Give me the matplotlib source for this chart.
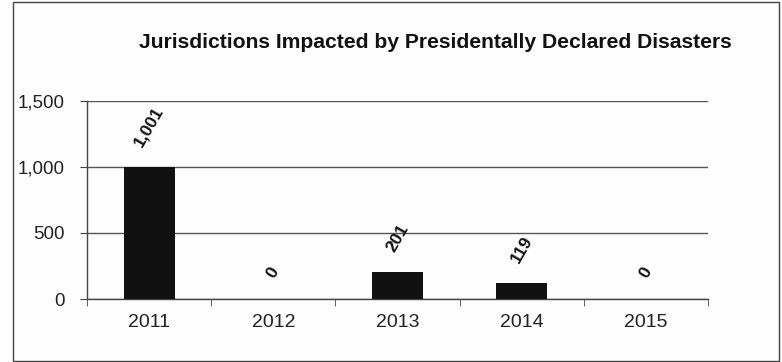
import matplotlib
matplotlib.use("Agg")
import matplotlib.pyplot as plt
from matplotlib.patches import Rectangle
import numpy as np

years = ["2011", "2012", "2013", "2014", "2015"]
jurisdictions = [1001, 0, 201, 119, 0]
y_ticks = [0, 500, 1000, 1500]
y_tick_labels = ["0", "500", "1,000", "1,500"]
title = "Jurisdictions Impacted by Presidentally Declared Disasters"

plt.rcParams["font.family"] = ["Liberation Sans", "DejaVu Sans"]

W, H = 782, 362
fig = plt.figure(figsize=(W / 100, H / 100), dpi=100)
fig.patch.set_facecolor("#fdfdfd")

# outer chart frame
fig.patches.append(Rectangle((13 / W, 1 - 361 / H), (779 - 13) / W, (361 - 2) / H,
                             transform=fig.transFigure, fill=False,
                             edgecolor="#444444", linewidth=1.0))

ax = fig.add_axes([87 / W, 1 - 299 / H, (708 - 87) / W, (299 - 101) / H])
ax.set_facecolor("none")
x = np.arange(len(years))
ax.bar(x, jurisdictions, width=0.41, color="#111111", zorder=3)

ax.set_xlim(-0.5, len(years) - 0.5)
ax.set_ylim(0, 1500)
ax.set_yticks(y_ticks)
ax.set_yticklabels(y_tick_labels, fontsize=13.5, color="#222222")
ax.set_xticks(x)
ax.set_xticklabels(years, fontsize=14, color="#222222")
ax.set_xticks(np.arange(-0.5, len(years)), minor=True)
ax.tick_params(axis="x", which="major", length=0, pad=11)
ax.tick_params(axis="x", which="minor", length=5, direction="out", color="#444444")
ax.tick_params(axis="y", length=5, direction="out", color="#444444", pad=11)

ax.grid(axis="y", color="#555555", linewidth=1.0, zorder=0)
for s in ["top", "right"]:
    ax.spines[s].set_visible(False)
for s in ["left", "bottom"]:
    ax.spines[s].set_color("#444444")
    ax.spines[s].set_linewidth(1.0)

for xi, v in zip(x, jurisdictions):
    ax.annotate(f"{v:,}", (xi, v), xytext=(0, 13), textcoords="offset points",
                rotation=60, ha="center", va="bottom", fontsize=12.5,
                fontweight="bold", color="#111111")

fig.text(435 / W, 1 - 43 / H, title, ha="center", va="center",
         fontsize=15.2, fontweight="bold", color="#111111")

fig.savefig("out.png", dpi=100, facecolor=fig.get_facecolor())
